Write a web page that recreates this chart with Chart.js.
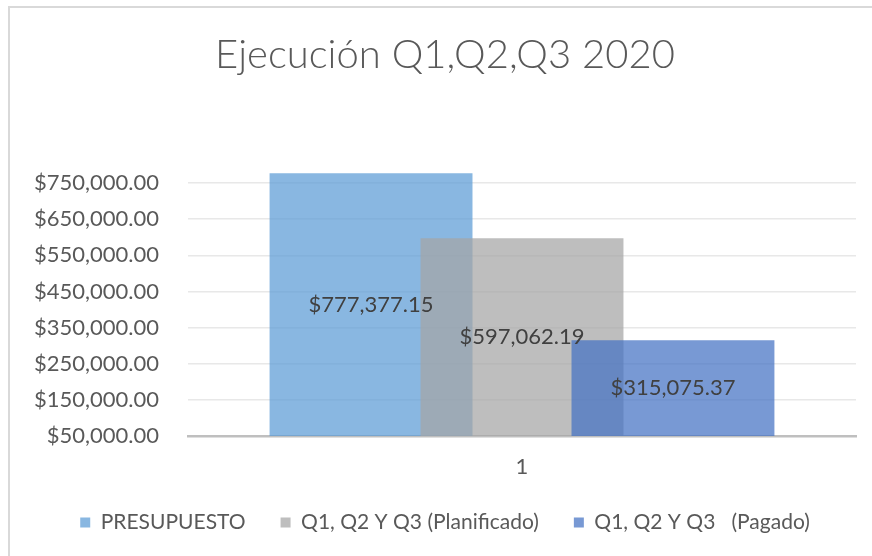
<!DOCTYPE html>
<html><head><meta charset="utf-8">
<script src="https://cdn.jsdelivr.net/npm/chart.js@4/dist/chart.umd.min.js"></script>
<style>
html,body{margin:0;padding:0;background:#fff;width:872px;height:556px;overflow:hidden}
#frame{position:absolute;left:8px;top:6px;width:900px;height:600px;border-left:2px solid #d9d9d9;border-top:2px solid #d9d9d9}
#wrap{position:absolute;left:0;top:0;width:872px;height:556px}
</style></head><body>
<div id="frame"></div>
<div id="wrap"><canvas id="c" width="872" height="556"></canvas></div>
<script>
const categories = ['1'];
const seriesNames = ['PRESUPUESTO', 'Q1, Q2 Y Q3 (Planificado)', 'Q1, Q2 Y Q3   (Pagado)'];
const presupuesto = [777377.15];
const planificado = [597062.19];
const pagado = [315075.37];
const yTickValues = [50000, 150000, 250000, 350000, 450000, 550000, 650000, 750000];
const yMin = 50000;
const yMax = 800000;

const fmt = v => '$' + Number(v).toLocaleString('en-US', {minimumFractionDigits: 2, maximumFractionDigits: 2});
const FONT = 'Lato';

const seriesOrderPlugin = {
  id: 'seriesOrder',
  beforeDatasetsDraw(chart) {
    const ctx = chart.ctx, a = chart.chartArea;
    ctx.save();
    ctx.beginPath();
    ctx.rect(a.left, a.top, a.right - a.left, a.bottom - a.top);
    ctx.clip();
    chart.data.datasets.forEach((d, i) => {
      const meta = chart.getDatasetMeta(i);
      if (!meta.hidden) meta.controller.draw();
    });
    ctx.restore();
    return false;
  },
  afterDraw(chart) {
    const ctx = chart.ctx, a = chart.chartArea;
    ctx.save();
    ctx.font = '22px ' + FONT;
    ctx.fillStyle = '#404040';
    ctx.textAlign = 'center';
    ctx.textBaseline = 'middle';
    chart.data.datasets.forEach((d, i) => {
      const meta = chart.getDatasetMeta(i);
      meta.data.forEach((el, j) => {
        const yc = (el.y + a.bottom) / 2;
        ctx.fillText(fmt(d.data[j]), el.x, yc);
      });
    });
    ctx.restore();
  }
};

new Chart(document.getElementById('c'), {
  type: 'bar',
  data: {
    labels: categories,
    datasets: [
      {label: seriesNames[0], data: presupuesto, backgroundColor: 'rgba(91,155,213,0.72)'},
      {label: seriesNames[1], data: planificado, backgroundColor: 'rgba(165,165,165,0.72)'},
      {label: seriesNames[2], data: pagado, backgroundColor: 'rgba(68,114,196,0.72)'}
    ]
  },
  options: {
    responsive: false,
    animation: false,
    events: [],
    categoryPercentage: 0.678,
    barPercentage: 1.344,
    layout: {padding: {left: 34, right: 16, top: 0, bottom: 13}},
    plugins: {
      tooltip: {enabled: false},
      title: {
        display: true,
        text: 'Ejecución Q1,Q2,Q3 2020',
        color: '#595959',
        font: {family: FONT, size: 40, weight: '300', lineHeight: 1.2},
        padding: {top: 31, bottom: 86}
      },
      legend: {
        position: 'bottom',
        labels: {
          color: '#595959',
          font: {family: FONT, size: 21},
          boxWidth: 10, boxHeight: 10,
          padding: 35
        }
      }
    },
    scales: {
      x: {
        afterFit: s => { s.height = 41; },
        grid: {display: false, drawTicks: false},
        border: {display: true, color: '#bfbfbf', width: 2.5},
        ticks: {color: '#595959', font: {family: FONT, size: 22, lineHeight: 1}, padding: 20}
      },
      y: {
        min: yMin, max: yMax,
        afterBuildTicks: s => { s.ticks = yTickValues.map(v => ({value: v})); },
        afterFit: s => { s.width = 154; },
        grid: {color: '#e8e8e8', lineWidth: 1.5, drawTicks: false},
        border: {display: false},
        ticks: {color: '#595959', font: {family: FONT, size: 22}, padding: 29, callback: v => fmt(v)}
      }
    }
  },
  plugins: [seriesOrderPlugin]
});
</script>
</body></html>
